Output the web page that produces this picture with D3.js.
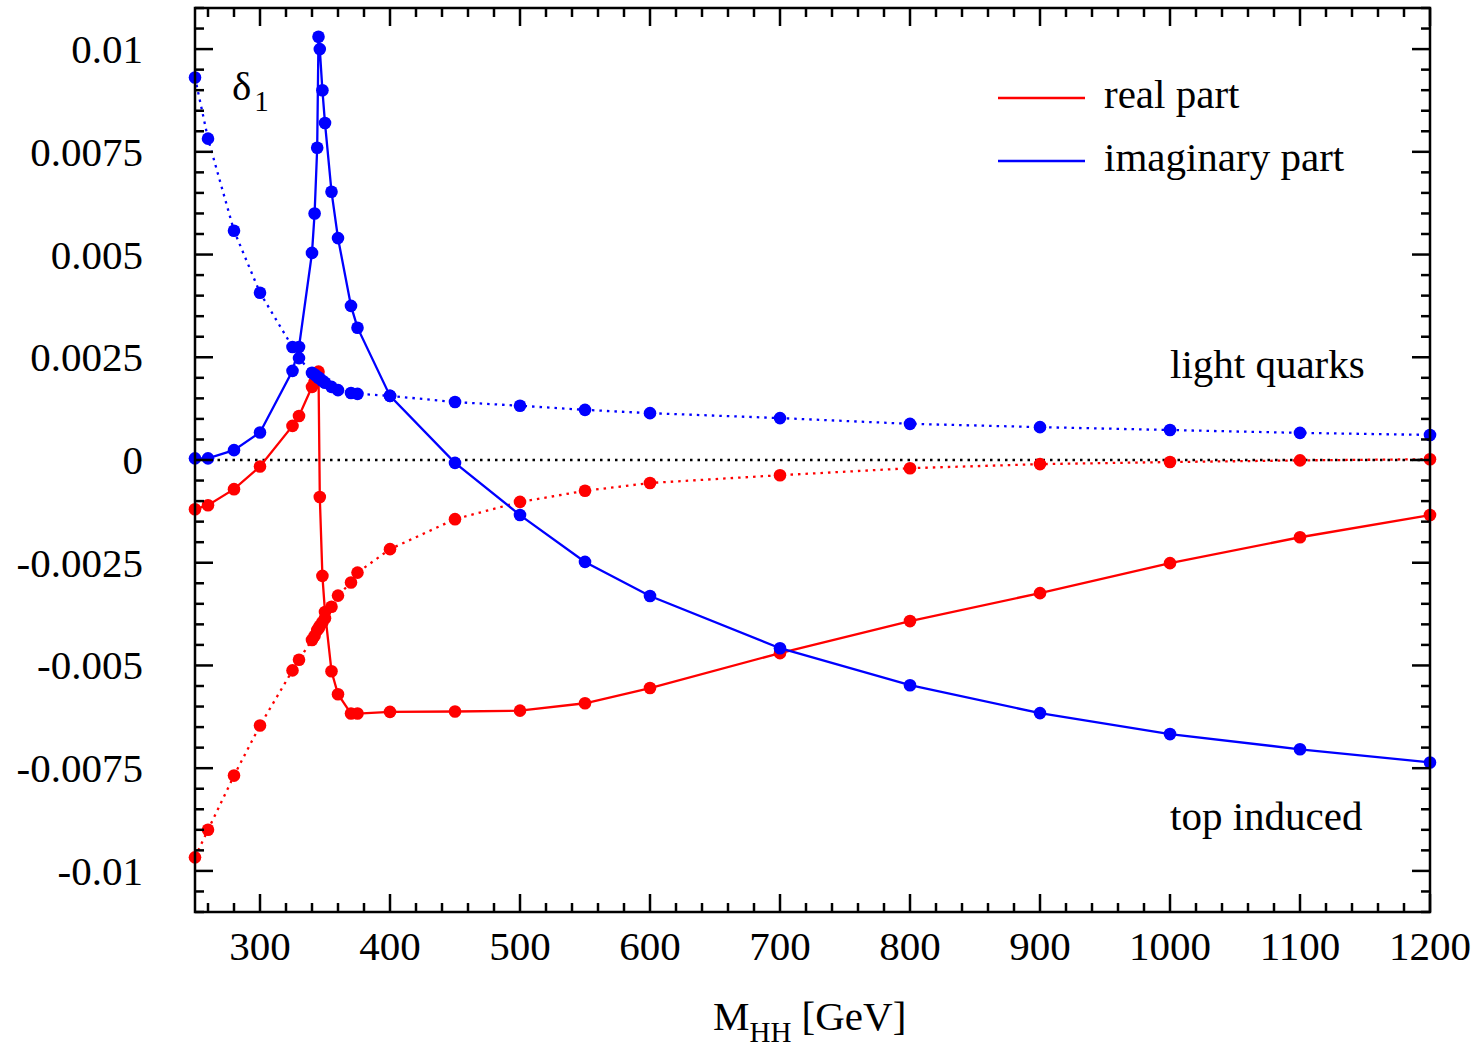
<!DOCTYPE html>
<html>
<head>
<meta charset="utf-8">
<script src="https://cdn.jsdelivr.net/npm/d3@7"></script>
<style>
  body { margin: 0; background: #fff; }
  text { font-family: "Liberation Serif", "DejaVu Serif", serif; fill: #000; }
</style>
</head>
<body>
<div id="chart"></div>
<script>
// M_HH grid (GeV) used by both curves
const massTop = [250, 260, 280, 300, 325, 330, 340, 342, 344, 345, 346, 348, 350, 355, 360, 370, 375, 400, 450, 500, 550, 600, 700, 800, 900, 1000, 1100, 1200];
const massLight = [250, 260, 280, 300, 325, 330, 340, 342, 344, 345, 346, 348, 350, 355, 360, 370, 375, 400, 450, 500, 550, 600, 700, 800, 900, 1000, 1100, 1200];

// top induced
const topReal = [-0.0012, -0.0011, -0.00071, -0.00016, 0.00083, 0.00107, 0.00178, 0.0019, 0.00205, 0.00215, -0.0009, -0.00282, -0.0037, -0.00514, -0.0057, -0.00617, -0.00617, -0.00613, -0.00612, -0.0061, -0.00592, -0.00555, -0.0047, -0.00392, -0.00324, -0.00251, -0.00188, -0.00134];
const topImag = [0.00004, 0.00004, 0.00024, 0.00067, 0.00217, 0.00275, 0.00504, 0.006, 0.0076, 0.0103, 0.01, 0.009, 0.0082, 0.00653, 0.0054, 0.00375, 0.00322, 0.00156, -0.00007, -0.00134, -0.00248, -0.00331, -0.00458, -0.00548, -0.00616, -0.00667, -0.00704, -0.00736];

// light quarks
const lightReal = [-0.00967, -0.009, -0.00768, -0.00646, -0.00512, -0.00486, -0.00438, -0.00428, -0.00414, -0.0041, -0.00404, -0.00395, -0.00385, -0.00357, -0.0033, -0.00298, -0.00274, -0.00217, -0.00144, -0.00102, -0.00075, -0.00056, -0.00037, -0.0002, -0.0001, -0.00005, -0.00001, 0.00002];
const lightImag = [0.00931, 0.00782, 0.00558, 0.00407, 0.00275, 0.00248, 0.00212, 0.00208, 0.00203, 0.002, 0.00198, 0.00193, 0.00188, 0.00178, 0.0017, 0.00163, 0.00161, 0.00156, 0.00141, 0.00132, 0.00122, 0.00114, 0.00102, 0.00088, 0.0008, 0.00073, 0.00066, 0.00061];

const yTicks = [-0.01, -0.0075, -0.005, -0.0025, 0, 0.0025, 0.005, 0.0075, 0.01];
const yTickLabels = ["-0.01", "-0.0075", "-0.005", "-0.0025", "0", "0.0025", "0.005", "0.0075", "0.01"];
const xTicks = [300, 400, 500, 600, 700, 800, 900, 1000, 1100, 1200];

const width = 1479, height = 1049;
const margin = { top: 8, right: 49, bottom: 137, left: 195 };
const innerW = width - margin.left - margin.right;
const innerH = height - margin.top - margin.bottom;

const svg = d3.select('#chart').append('svg')
    .attr('width', width)
    .attr('height', height);

const x = d3.scaleLinear().domain([250, 1200]).range([margin.left, margin.left + innerW]);
const y = d3.scaleLinear().domain([-0.011, 0.011]).range([margin.top + innerH, margin.top]);

const red = '#ff0000', blue = '#0000ff';
const fs = 41;

// zero line
svg.append('line')
    .attr('x1', x(250)).attr('x2', x(1200))
    .attr('y1', y(0)).attr('y2', y(0))
    .attr('stroke', '#000')
    .attr('stroke-width', 2.5)
    .attr('stroke-dasharray', '2.5,5');

const line = d3.line().x(d => x(d[0])).y(d => y(d[1]));

function drawSeries(xs, ys, color, dotted) {
    const pts = xs.map((m, i) => [m, ys[i]]);
    svg.append('path')
        .datum(pts)
        .attr('d', line)
        .attr('fill', 'none')
        .attr('stroke', color)
        .attr('stroke-width', 2.3)
        .attr('stroke-dasharray', dotted ? '2.5,5' : null);
    svg.append('g').selectAll('circle')
        .data(pts)
        .join('circle')
        .attr('cx', d => x(d[0]))
        .attr('cy', d => y(d[1]))
        .attr('r', 6.3)
        .attr('fill', color);
}

drawSeries(massLight, lightReal, red, true);
drawSeries(massTop, topReal, red, false);
drawSeries(massLight, lightImag, blue, true);
drawSeries(massTop, topImag, blue, false);

// frame
svg.append('rect')
    .attr('x', margin.left).attr('y', margin.top)
    .attr('width', innerW).attr('height', innerH)
    .attr('fill', 'none')
    .attr('stroke', '#000')
    .attr('stroke-width', 2.5);

// ticks, inward on all four sides
const ticks = svg.append('g').attr('stroke', '#000').attr('stroke-width', 2.5);
const yMinor = d3.range(-0.011, 0.01101, 0.0005);
yMinor.forEach(v => {
    const major = yTicks.some(t => Math.abs(t - v) < 1e-9);
    const len = major ? 18 : 9;
    ticks.append('line').attr('x1', x(250)).attr('x2', x(250) + len).attr('y1', y(v)).attr('y2', y(v));
    ticks.append('line').attr('x1', x(1200)).attr('x2', x(1200) - len).attr('y1', y(v)).attr('y2', y(v));
});
const xMinor = d3.range(260, 1201, 20);
xMinor.forEach(v => {
    const major = xTicks.includes(v);
    const len = major ? 18 : 9;
    ticks.append('line').attr('x1', x(v)).attr('x2', x(v)).attr('y1', y(-0.011)).attr('y2', y(-0.011) - len);
    ticks.append('line').attr('x1', x(v)).attr('x2', x(v)).attr('y1', y(0.011)).attr('y2', y(0.011) + len);
});

// tick labels
svg.append('g').selectAll('text')
    .data(yTicks)
    .join('text')
    .attr('x', 143)
    .attr('y', d => y(d) + 14)
    .attr('text-anchor', 'end')
    .attr('font-size', fs)
    .text((d, i) => yTickLabels[i]);

svg.append('g').selectAll('text')
    .data(xTicks)
    .join('text')
    .attr('x', d => x(d))
    .attr('y', 960)
    .attr('text-anchor', 'middle')
    .attr('font-size', fs)
    .text(d => d);

// axis title
const xt = svg.append('text').attr('x', 713).attr('y', 1030).attr('font-size', fs);
xt.append('tspan').text('M');
xt.append('tspan').attr('font-size', 29).attr('dy', 12).text('HH');
xt.append('tspan').attr('dy', -12).text(' [GeV]');

// delta_1
const dl = svg.append('text').attr('x', 232).attr('y', 100).attr('font-size', fs);
dl.append('tspan').text('δ');
dl.append('tspan').attr('font-size', 29).attr('dy', 11).attr('dx', 3).text('1');

// annotations
svg.append('text').attr('x', 1170).attr('y', 378).attr('font-size', fs).text('light quarks');
svg.append('text').attr('x', 1170).attr('y', 830).attr('font-size', fs).text('top induced');

// legend
const legend = [{ label: 'real part', color: red, y: 98 }, { label: 'imaginary part', color: blue, y: 161 }];
legend.forEach(l => {
    svg.append('line')
        .attr('x1', 998).attr('x2', 1085)
        .attr('y1', l.y).attr('y2', l.y)
        .attr('stroke', l.color).attr('stroke-width', 2.3);
    svg.append('text')
        .attr('x', 1104).attr('y', l.y + 10)
        .attr('font-size', fs)
        .text(l.label);
});
</script>
</body>
</html>
